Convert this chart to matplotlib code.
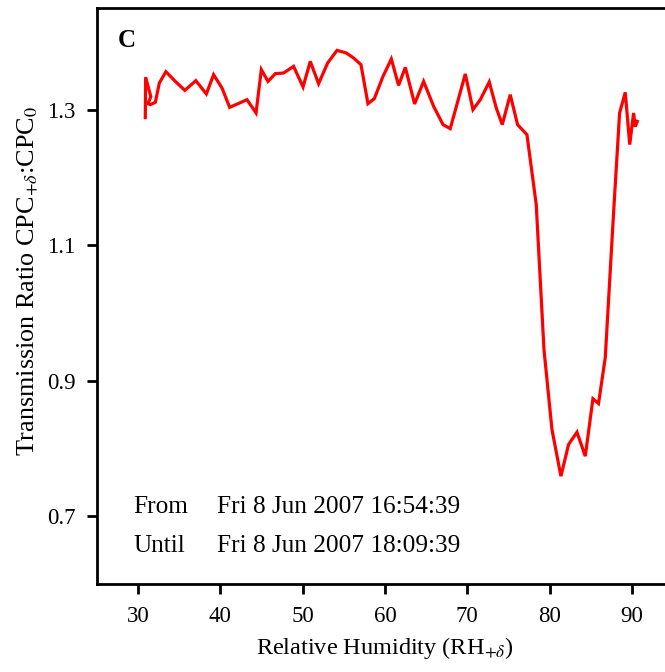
import matplotlib
matplotlib.use("Agg")
import matplotlib.pyplot as plt

rh = [30.87, 30.91, 31.54, 31.20, 31.48, 32.09, 32.58, 33.37, 34.52, 35.67,
      37.01, 38.29, 39.17, 40.19, 41.12, 43.23, 44.33, 44.97, 45.78, 46.67,
      47.68, 48.89, 50.04, 50.92, 51.93, 53.03, 54.17, 55.30, 56.18, 57.08,
      57.93, 58.70, 59.76, 60.77, 61.65, 62.47, 63.60, 64.69, 65.91, 67.05,
      67.93, 69.76, 70.69, 71.58, 72.67, 73.52, 74.25, 75.22, 76.11, 77.25,
      78.38, 79.32, 80.29, 81.38, 82.31, 83.33, 84.34, 85.27, 85.95, 86.77,
      87.78, 88.51, 89.20, 89.74, 90.21, 90.41, 90.66]
ratio = [1.2882, 1.3479, 1.3192, 1.3088, 1.3074, 1.3108, 1.3394, 1.3560, 1.3417, 1.3285,
         1.3428, 1.3232, 1.3516, 1.3320, 1.3034, 1.3147, 1.2951, 1.3590, 1.3417, 1.3531,
         1.3541, 1.3639, 1.3335, 1.3712, 1.3383, 1.3689, 1.3875, 1.3836, 1.3763, 1.3664,
         1.3088, 1.3162, 1.3491, 1.3748, 1.3358, 1.3624, 1.3084, 1.3417, 1.3049, 1.2779,
         1.2720, 1.3527, 1.3000, 1.3147, 1.3409, 1.3025, 1.2779, 1.3221, 1.2779, 1.2631,
         1.1599, 0.9460, 0.8280, 0.7591, 0.8059, 0.8240, 0.7886, 0.8733, 0.8664, 0.9342,
         1.1481, 1.2951, 1.3255, 1.2484, 1.2951, 1.2749, 1.2827]

xticks = [30, 40, 50, 60, 70, 80, 90]
yticks = [0.7, 0.9, 1.1, 1.3]
ytick_labels = ["0.7", "0.9", "1.1", "1.3"]

plt.rcParams['font.family'] = ['Liberation Serif', 'DejaVu Serif']
plt.rcParams['mathtext.fontset'] = 'stix'

W, H = 665, 672
fig = plt.figure(figsize=(W / 100, H / 100), dpi=100)
ax = fig.add_axes([97 / W, (H - 584) / H, 576 / W, 576 / H])

ax.plot(rh, ratio, color='#ff0000', lw=2.3, solid_joinstyle='miter')

ax.set_xlim(25, 95)
ax.set_ylim(0.6, 1.45)
ax.set_xticks(xticks)
ax.set_yticks(yticks)
ax.set_yticklabels(ytick_labels)

for s in ax.spines.values():
    s.set_linewidth(2.0)
ax.tick_params(direction='out', length=7.5, width=2.0, labelsize=16.5, pad=8)

ax.set_xlabel(r'Relative Humidity (RH$_{+\delta}$)', fontsize=17.5, labelpad=6)
ax.set_ylabel(r'Transmission Ratio CPC$_{+\delta}$:CPC$_0$', fontsize=18.8)
ax.yaxis.set_label_coords(-0.098, 0.526)

ax.text((118 - 97) / 576, 1 - (47 - 8) / 576, 'C', transform=ax.transAxes,
        fontsize=18, fontweight='bold', va='baseline', ha='left')

ax.text((133 - 97) / 576, 1 - (513 - 8) / 576, 'From', transform=ax.transAxes,
        fontsize=18.2, va='baseline', ha='left')
ax.text((217 - 97) / 576, 1 - (513 - 8) / 576, 'Fri 8 Jun 2007 16:54:39', transform=ax.transAxes,
        fontsize=18.2, va='baseline', ha='left')
ax.text((133 - 97) / 576, 1 - (552 - 8) / 576, 'Until', transform=ax.transAxes,
        fontsize=18.2, va='baseline', ha='left')
ax.text((217 - 97) / 576, 1 - (552 - 8) / 576, 'Fri 8 Jun 2007 18:09:39', transform=ax.transAxes,
        fontsize=18.2, va='baseline', ha='left')

fig.savefig('out.png', dpi=100)
